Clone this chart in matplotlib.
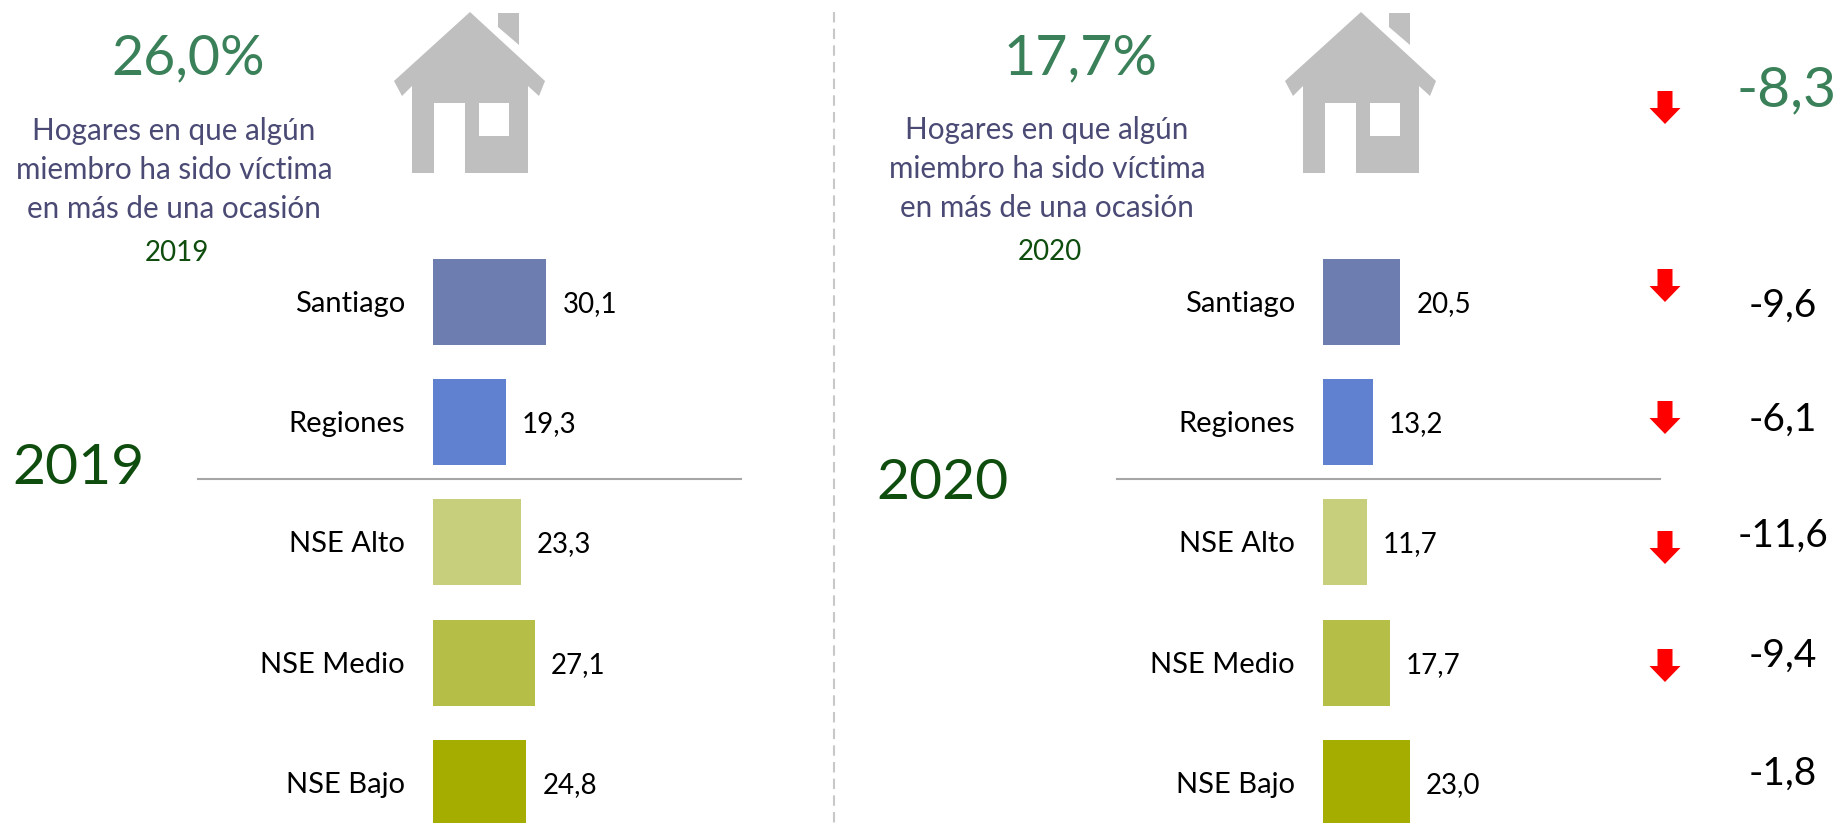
import matplotlib
matplotlib.use("Agg")
import matplotlib.pyplot as plt
from matplotlib.patches import Polygon, Rectangle

W, H = 1840, 823
FONT = "Lato"

categories = ["Santiago", "Regiones", "NSE Alto", "NSE Medio", "NSE Bajo"]
values_2019 = [30.1, 19.3, 23.3, 27.1, 24.8]
values_2020 = [20.5, 13.2, 11.7, 17.7, 23.0]
diffs = ["-9,6", "-6,1", "-11,6", "-9,4", "-1,8"]
bar_colors = ["#6E7DB0", "#6080D0", "#C7CF7C", "#B5BF47", "#A5AE00"]

total_2019 = "26,0%"
total_2020 = "17,7%"
total_diff = "-8,3"
description = "Hogares en que algún\nmiembro ha sido víctima\nen más de una ocasión"

GREEN = "#3A8059"
DARK_GREEN = "#0F4D0F"
PURPLE = "#4A4A75"
GREY = "#BFBFBF"

PX_PER_UNIT = 3.77
ROW_PX = 120.2
FIRST_ROW_PX = 302


def fmt(v):
    return f"{v:.1f}".replace(".", ",")


def draw_bars(fig, left_px, values):
    # axes spans the whole height so rows land on the same pixels as the slide
    width_px = 45 * PX_PER_UNIT
    ax = fig.add_axes([left_px / W, 0, width_px / W, 1])
    ax.barh(range(len(values)), values, height=0.715, color=bar_colors)
    ax.set_xlim(0, 45)
    ax.set_ylim((H - FIRST_ROW_PX) / ROW_PX, -FIRST_ROW_PX / ROW_PX)
    ax.axis("off")
    ax.patch.set_alpha(0)
    return ax


def draw_house(ax, dx):
    body = [(470, 12), (545, 81), (539, 96), (528, 86), (528, 173), (465, 173),
            (465, 103), (434, 103), (434, 173), (412, 173), (412, 86), (402, 96),
            (394, 81)]
    chimney = [(498, 13), (519, 13), (519, 45), (498, 27)]
    ax.add_patch(Polygon([(x + dx, y) for x, y in body], color=GREY, lw=0))
    ax.add_patch(Polygon([(x + dx, y) for x, y in chimney], color=GREY, lw=0))
    ax.add_patch(Rectangle((479 + dx, 103), 30, 33, color="white", lw=0))


def draw_arrow(ax, cx, top):
    pts = [(cx - 7.5, top), (cx + 7.5, top), (cx + 7.5, top + 17), (cx + 15.5, top + 17),
           (cx, top + 33), (cx - 15.5, top + 17), (cx - 7.5, top + 17)]
    ax.add_patch(Polygon(pts, color="#FF0000", lw=0))


def put(ax, x, y, s, size, color="black", ha="center", **kw):
    ax.text(x, y, s, fontsize=size, color=color, ha=ha, va="center", family=FONT, **kw)


fig = plt.figure(figsize=(W / 100, H / 100), dpi=100, facecolor="white")

# overlay in pixel coordinates for the slide furniture
bg = fig.add_axes([0, 0, 1, 1])
bg.set_xlim(0, W)
bg.set_ylim(H, 0)
bg.axis("off")

bar_left = [433, 1323]
for left, values in zip(bar_left, [values_2019, values_2020]):
    ax = draw_bars(fig, left, values)
    for i, v in enumerate(values):
        y = FIRST_ROW_PX + i * ROW_PX + 2
        put(bg, left + v * PX_PER_UNIT + 16, y, fmt(v), 20, ha="left")
        put(bg, left - 28, y, categories[i], 21, ha="right")

bg.plot([198, 741], [479, 479], color="#A6A6A6", lw=1.5)
bg.plot([1117, 1660], [479, 479], color="#A6A6A6", lw=1.5)
bg.plot([834.5, 834.5], [12, 823], color="#C8C8C8", lw=1.5, ls=(0, (5, 3)))

draw_house(bg, 0)
draw_house(bg, 891)

put(bg, 174, 170, description, 21.3, PURPLE, linespacing=1.46)
put(bg, 1047, 169, description, 21.3, PURPLE, linespacing=1.46)
put(bg, 188, 59, total_2019, 40, GREEN)
put(bg, 1081, 59, total_2020, 40, GREEN)
put(bg, 177, 253, "2019", 20, DARK_GREEN)
put(bg, 1050, 252, "2020", 20, DARK_GREEN)
put(bg, 79, 468, "2019", 41, DARK_GREEN)
put(bg, 943, 483, "2020", 41, DARK_GREEN)

put(bg, 1787, 91, total_diff, 41, GREEN)
arrow_tops = [91, 269, 401, 531, 649]
for top in arrow_tops:
    draw_arrow(bg, 1665, top)
diff_y = [306, 420, 536, 656, 774]
for s, y in zip(diffs, diff_y):
    put(bg, 1783, y, s, 28)

fig.savefig("out.png", dpi=100)
